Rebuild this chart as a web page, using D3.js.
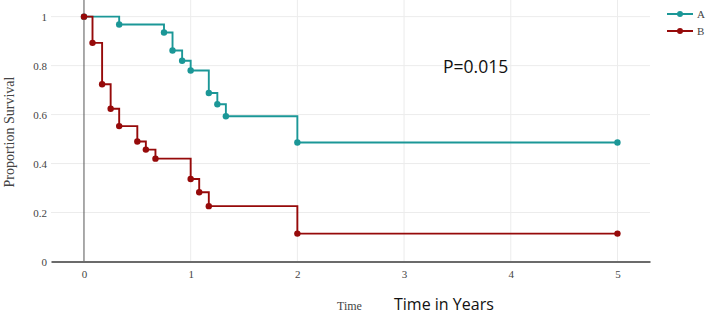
<!DOCTYPE html>
<html>
<head>
<meta charset="utf-8">
<script src="https://cdn.jsdelivr.net/npm/d3@7"></script>
<style>
  body { margin: 0; background: #fff; }
  svg { display: block; }
</style>
</head>
<body>
<div id="chart-area"></div>
<script>
// survival curves
const timeA = [0, 0.33, 0.75, 0.83, 0.92, 1.0, 1.17, 1.25, 1.33, 2.0, 5.0];
const survA = [1, 0.968, 0.935, 0.862, 0.82, 0.78, 0.688, 0.642, 0.593, 0.486, 0.486];
const timeB = [0, 0.08, 0.17, 0.25, 0.33, 0.5, 0.58, 0.67, 1.0, 1.08, 1.17, 2.0, 5.0];
const survB = [1, 0.893, 0.724, 0.624, 0.553, 0.49, 0.457, 0.42, 0.337, 0.283, 0.226, 0.114, 0.114];
const groups = ['A', 'B'];
const colors = ['#1b9797', '#960a0a'];
const xTicks = [0, 1, 2, 3, 4, 5];
const yTicks = [0, 0.2, 0.4, 0.6, 0.8, 1];

const W = 708, H = 314;
const margins = { top: 0, right: 58, bottom: 52.5, left: 51 };
const width = W - margins.left - margins.right;
const height = H - margins.top - margins.bottom;

const svg = d3.select('#chart-area')
  .append('svg')
  .attr('width', W)
  .attr('height', H);

const g = svg.append('g')
  .attr('transform', 'translate(' + margins.left + ', ' + margins.top + ')');

const x = d3.scaleLinear().domain([-0.309, 5.305]).range([0, width]);
const y = d3.scaleLinear().domain([0, 1.068]).range([height, 0]);

const serif = '"Liberation Serif", "DejaVu Serif", serif';

// grid
g.selectAll('.vgrid')
  .data(xTicks.filter(d => d !== 0))
  .enter().append('line')
  .attr('x1', d => x(d)).attr('x2', d => x(d))
  .attr('y1', 0).attr('y2', height)
  .attr('stroke', '#ececec').attr('stroke-width', 1);

g.selectAll('.hgrid')
  .data(yTicks.filter(d => d !== 0))
  .enter().append('line')
  .attr('x1', 0).attr('x2', width)
  .attr('y1', d => y(d)).attr('y2', d => y(d))
  .attr('stroke', '#ececec').attr('stroke-width', 1);

// zero line
g.append('line')
  .attr('x1', x(0)).attr('x2', x(0))
  .attr('y1', 0).attr('y2', height)
  .attr('stroke', '#555').attr('stroke-width', 1);

// x axis
const xAxisCall = d3.axisBottom(x).tickValues(xTicks).tickSize(0).tickPadding(9)
  .tickFormat(d3.format('d'));
const xAxis = g.append('g')
  .attr('transform', 'translate(0, ' + height + ')')
  .call(xAxisCall);
xAxis.select('.domain').attr('stroke', '#6b6b6b').attr('stroke-width', 2);
xAxis.selectAll('text').attr('font-family', serif).attr('font-size', '11px').attr('fill', '#444');

// y axis
const yAxisCall = d3.axisLeft(y).tickValues(yTicks).tickSize(0).tickPadding(4)
  .tickFormat(d => d3.format('')(d));
const yAxis = g.append('g').call(yAxisCall);
yAxis.select('.domain').remove();
yAxis.selectAll('text').attr('font-family', serif).attr('font-size', '11px').attr('fill', '#444');

// curves
const series = [
  { name: groups[0], t: timeA, s: survA, color: colors[0] },
  { name: groups[1], t: timeB, s: survB, color: colors[1] }
];

const line = d3.line()
  .x(d => x(d[0]))
  .y(d => y(d[1]))
  .curve(d3.curveStepAfter);

series.forEach((sr) => {
  const pts = sr.t.map((t, i) => [t, sr.s[i]]);
  g.append('path')
    .datum(pts)
    .attr('d', line)
    .attr('fill', 'none')
    .attr('stroke', sr.color)
    .attr('stroke-width', 1.9);
  g.selectAll(null)
    .data(pts)
    .enter().append('circle')
    .attr('cx', d => x(d[0]))
    .attr('cy', d => y(d[1]))
    .attr('r', 3.2)
    .attr('fill', sr.color);
});

// legend
const legend = svg.append('g');
series.forEach((sr, i) => {
  const ly = 14 + i * 17;
  legend.append('line')
    .attr('x1', 667).attr('x2', 693)
    .attr('y1', ly).attr('y2', ly)
    .attr('stroke', sr.color).attr('stroke-width', 2);
  legend.append('circle')
    .attr('cx', 680).attr('cy', ly).attr('r', 3)
    .attr('fill', sr.color);
  legend.append('text')
    .attr('x', 697).attr('y', ly + 4)
    .attr('font-family', serif).attr('font-size', '11px').attr('fill', '#444')
    .text(sr.name);
});

// axis titles
svg.append('text')
  .attr('transform', 'translate(14, 132) rotate(-90)')
  .attr('text-anchor', 'middle')
  .attr('font-family', serif).attr('font-size', '14px').attr('fill', '#444')
  .text('Proportion Survival');

svg.append('text')
  .attr('x', 337).attr('y', 310)
  .attr('font-family', serif).attr('font-size', '12px').attr('fill', '#444')
  .text('Time');

svg.append('text')
  .attr('x', 394).attr('y', 309.5)
  .attr('font-family', '"Open Sans", sans-serif').attr('font-size', '16px').attr('fill', '#111')
  .text('Time in Years');

svg.append('text')
  .attr('x', 443).attr('y', 72.5)
  .attr('font-family', '"Open Sans", sans-serif').attr('font-size', '17.5px').attr('fill', '#111')
  .text('P=0.015');
</script>
</body>
</html>
